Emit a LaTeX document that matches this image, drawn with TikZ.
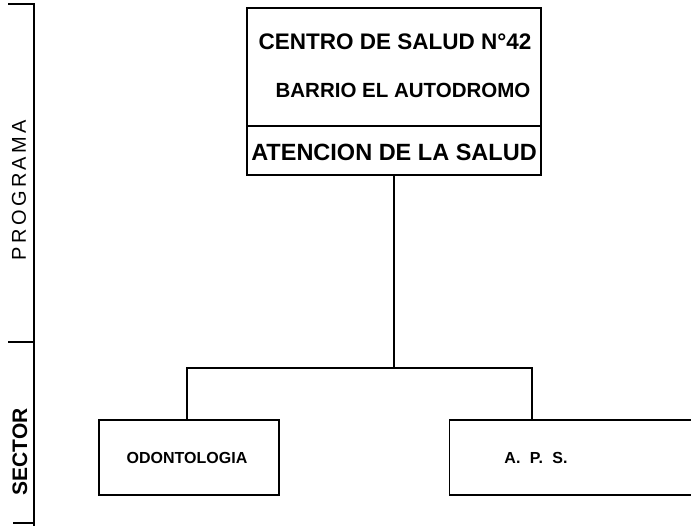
\documentclass[tikz,border=0pt]{standalone}
\usepackage{fontspec}
\setmainfont{Liberation Sans}
\usetikzlibrary{positioning}

\tikzset{
    caja/.style={draw, line width=1.1pt, inner sep=0pt},
    rotulo/.style={font=\bfseries\fontsize{#1}{#1}\selectfont, inner sep=0pt},
    enlace/.style={line width=1.2pt}
}

\begin{document}
\begin{tikzpicture}[x=1pt, y=-1pt]
        \useasboundingbox (0,0) rectangle (691,526);
        % lateral
        \draw[enlace] (8,4) -- (34,4) -- (34,526);
        \draw[enlace] (8,342) -- (34,342);
        \draw[enlace] (13,523) -- (34,523);
        \node[rotulo=20, rotate=90, font=\mdseries\fontsize{20}{20}\selectfont] (programa) at (19,190) {P\,R\,O\,G\,R\,A\,M\,A};
        \node[rotulo=21, rotate=90] (sector) at (20,452) {SECTOR};
        % cabecera
        \node[caja, minimum width=294pt, minimum height=167pt] (centro) at (394,91.5) {};
        \draw[enlace] (centro.west |- 0,126) -- (centro.east |- 0,126);
        \node[rotulo=22.5] (linea1) at (395,42) {CENTRO DE SALUD N°42};
        \node[rotulo=20.5] (linea2) at (403,90) {BARRIO EL AUTODROMO};
        \node[rotulo=23.5] (linea3) at (394,152) {ATENCION DE LA SALUD};
        % sectores
        \node[caja, minimum width=180pt, minimum height=75pt] (odonto) at (189,457.5) {};
        \node[rotulo=16] (odontotexto) at (187,458) {ODONTOLOGIA};
        \node[caja, minimum width=290pt, minimum height=75pt, anchor=west] (aps) at (449,457.5) {};
        \node[rotulo=16] (apstexto) at (536,458) {A.\hspace{5pt} P.\hspace{5pt} S.};
        % conexiones
        \coordinate (rama) at (centro.south |- 0,368);
        \draw[enlace] (centro.south) -- (rama);
        \draw[enlace] (rama) -| (odonto.north -| 187,0);
        \draw[enlace] (rama) -| (aps.north -| 532,0);
    \end{tikzpicture}
\end{document}
